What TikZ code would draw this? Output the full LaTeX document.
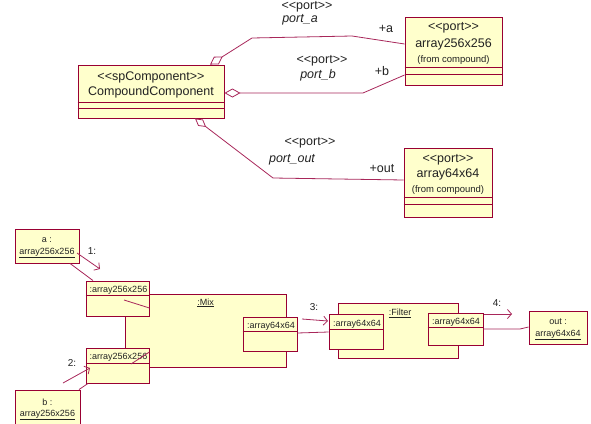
\documentclass[tikz,border=0pt]{standalone}
\usepackage{fontspec}
\setmainfont{Liberation Sans}
\usepackage{tikz}
\usetikzlibrary{arrows.meta, positioning}
\definecolor{roseyellow}{HTML}{FFFFCC}
\definecolor{rosered}{HTML}{990033}
\definecolor{roseline}{HTML}{A8275A}
\definecolor{rosetext}{HTML}{222222}
\newcommand{\stereo}[1]{{<}{<}#1{>}{>}}

\tikzset{
	umlbox/.style={draw=rosered, fill=roseyellow, line width=0.9pt, inner sep=0pt},
	rel/.style={draw=roseline, line width=0.8pt},
	msgarrow/.style={draw=roseline, line width=0.8pt, -{Straight Barb[length=4pt,width=9pt]}},
	lbltop/.style={font=\fontsize{12.5}{14}\selectfont, text=rosetext, inner sep=0pt},
	lblnote/.style={font=\fontsize{9.5}{11}\selectfont, text=rosetext, inner sep=0pt},
	lblobj/.style={font=\fontsize{9}{10}\selectfont, text=rosetext, inner sep=0pt},
	lblmsg/.style={font=\fontsize{10}{11}\selectfont, text=rosetext, inner sep=0pt}
}

\begin{document}
\begin{tikzpicture}[x=1pt, y=-1pt]
	\useasboundingbox (0,0) rectangle (591,423);

	% compound component and its ports
	\node[umlbox, minimum width=146pt, minimum height=53pt] (cc) at (151,91.5) {};
	\draw[rosered, line width=0.9pt] ([yshift=16pt]cc.south west) -- ([yshift=16pt]cc.south east);
	\draw[rosered, line width=0.9pt] ([yshift=10pt]cc.south west) -- ([yshift=10pt]cc.south east);
	\node[lbltop] (ccst) at (151,77) {\stereo{spComponent}};
	\node[lbltop] (ccname) at (151,92) {CompoundComponent};

	\node[umlbox, minimum width=97pt, minimum height=68pt] (pa) at (453.5,51) {};
	\draw[rosered, line width=0.9pt] ([yshift=18pt]pa.south west) -- ([yshift=18pt]pa.south east);
	\draw[rosered, line width=0.9pt] ([yshift=11pt]pa.south west) -- ([yshift=11pt]pa.south east);
	\node[lbltop] (past) at (453.5,28) {\stereo{port}};
	\node[lbltop] (paname) at (453.5,44) {array256x256};
	\node[lblnote] (pafrom) at (453.5,60) {(from compound)};

	\node[umlbox, minimum width=88pt, minimum height=69pt] (pout) at (448,182.5) {};
	\draw[rosered, line width=0.9pt] ([yshift=20pt]pout.south west) -- ([yshift=20pt]pout.south east);
	\draw[rosered, line width=0.9pt] ([yshift=13pt]pout.south west) -- ([yshift=13pt]pout.south east);
	\node[lbltop] (poutst) at (448,160) {\stereo{port}};
	\node[lbltop] (poutname) at (448,174) {array64x64};
	\node[lblnote] (poutfrom) at (448,190) {(from compound)};

	\draw[rel, {Diamond[open,length=15pt,width=9pt]}-] ([xshift=59pt]cc.north) -- (252,38) -- (352,36) -- ([yshift=7pt]pa.west);
	\draw[rel, {Diamond[open,length=16pt,width=9pt]}-] ([yshift=-1.5pt]cc.east) -- (363,93) -- ([yshift=-24pt]pa.west);
	\draw[rel, {Diamond[open,length=14pt,width=8pt]}-] ([xshift=44pt]cc.south) -- (273,178) -- ([yshift=2.5pt]pout.west);

	\node[lbltop] (relast) at (307,6.5) {\stereo{port}};
	\node[lbltop, font=\fontsize{12.5}{14}\selectfont\itshape] (relaname) at (300,20) {port\_a};
	\node[lbltop] (relarole) at (386,29) {+a};
	\node[lbltop] (relbst) at (322,61) {\stereo{port}};
	\node[lbltop, font=\fontsize{12.5}{14}\selectfont\itshape] (relbname) at (318,75) {port\_b};
	\node[lbltop] (relbrole) at (382,71) {+b};
	\node[lbltop] (reloutst) at (310,143) {\stereo{port}};
	\node[lbltop, font=\fontsize{12.5}{14}\selectfont\itshape] (reloutname) at (292,160) {port\_out};
	\node[lbltop] (reloutrole) at (382,169) {+out};

	% collaboration
	\node[umlbox, minimum width=161pt, minimum height=73pt] (mix) at (205.5,330.5) {};
	\node[lblobj] (mixname) at (205.5,303) {\underline{:Mix}};
	\node[umlbox, minimum width=120pt, minimum height=55pt] (filter) at (398,330.5) {};
	\node[lblobj] (filtername) at (400,313) {\underline{:Filter}};

	\node[umlbox, minimum width=63pt, minimum height=35pt] (in1) at (117.5,298.5) {};
	\draw[rosered, line width=0.9pt] ([yshift=-15pt]in1.north west) -- ([yshift=-15pt]in1.north east);
	\node[lblobj] (in1name) at (118.5,290) {:array256x256};
	\node[umlbox, minimum width=63pt, minimum height=35pt] (in2) at (117.5,365.5) {};
	\draw[rosered, line width=0.9pt] ([yshift=-16pt]in2.north west) -- ([yshift=-16pt]in2.north east);
	\node[lblobj] (in2name) at (118.5,357) {:array256x256};
	\node[umlbox, minimum width=54pt, minimum height=34pt] (mout) at (270,334) {};
	\draw[rosered, line width=0.9pt] ([yshift=-15pt]mout.north west) -- ([yshift=-15pt]mout.north east);
	\node[lblobj] (moutname) at (271,326) {:array64x64};

	\node[umlbox, minimum width=54pt, minimum height=35pt] (fin) at (356,331.5) {};
	\draw[rosered, line width=0.9pt] ([yshift=-16pt]fin.north west) -- ([yshift=-16pt]fin.north east);
	\node[lblobj] (finname) at (357,324) {:array64x64};
	\node[umlbox, minimum width=55pt, minimum height=32pt] (fout) at (455.5,329) {};
	\draw[rosered, line width=0.9pt] ([yshift=-15pt]fout.north west) -- ([yshift=-15pt]fout.north east);
	\node[lblobj] (foutname) at (456,322) {:array64x64};

	\node[umlbox, minimum width=64pt, minimum height=34pt] (a) at (47,246) {};
	\node[lblobj] (aname) at (47,240) {a :};
	\node[lblobj] (atype) at (47,253) {\underline{array256x256}};
	\node[umlbox, minimum width=65pt, minimum height=38pt] (b) at (47.5,409) {};
	\node[lblobj] (bname) at (47.5,402) {b :};
	\node[lblobj] (btype) at (47.5,415) {\underline{array256x256}};
	\node[umlbox, minimum width=58pt, minimum height=33pt] (outn) at (558,327.5) {};
	\node[lblobj] (outname) at (558,322) {out :};
	\node[lblobj] (outtype) at (558,335) {\underline{array64x64}};

	\draw[rel] ([xshift=23pt]a.south) -- ([xshift=-24.5pt]in1.north);
	\draw[rel] ([xshift=6.5pt,yshift=-1.5pt]in1.center) -- ([yshift=-9.5pt]in1.east);
	\draw[rel] ([xshift=31.5pt]b.north) -- ([xshift=-29.5pt]in2.south);
	\draw[rel] ([xshift=13.5pt,yshift=1.5pt]in2.center) -- ([yshift=13.5pt]in2.east);
	\draw[rel] ([yshift=1pt]mout.east) -- ([yshift=-0.5pt]fin.west);
	\draw[rel] (fout.east) -- (520,329) -- ([yshift=0.5pt]outn.west);

	% messages
	\coordinate (m1s) at (77,253);
	\coordinate (m1e) at (100,269);
	\coordinate (m2s) at (63,383);
	\coordinate (m2e) at (90,368);
	\coordinate (m3s) at (302,319);
	\coordinate (m3e) at (328,321);
	\coordinate (m4s) at (484,314);
	\coordinate (m4e) at (512,314);
	\draw[msgarrow] (m1s) -- (m1e);
	\draw[msgarrow] (m2s) -- (m2e);
	\draw[msgarrow] (m3s) -- (m3e);
	\draw[msgarrow] (m4s) -- (m4e);
	\node[lblmsg] (m1lbl) at (92,251) {1:};
	\node[lblmsg] (m2lbl) at (72,363) {2:};
	\node[lblmsg] (m3lbl) at (314,307) {3:};
	\node[lblmsg] (m4lbl) at (497,303) {4:};
\end{tikzpicture}
\end{document}
